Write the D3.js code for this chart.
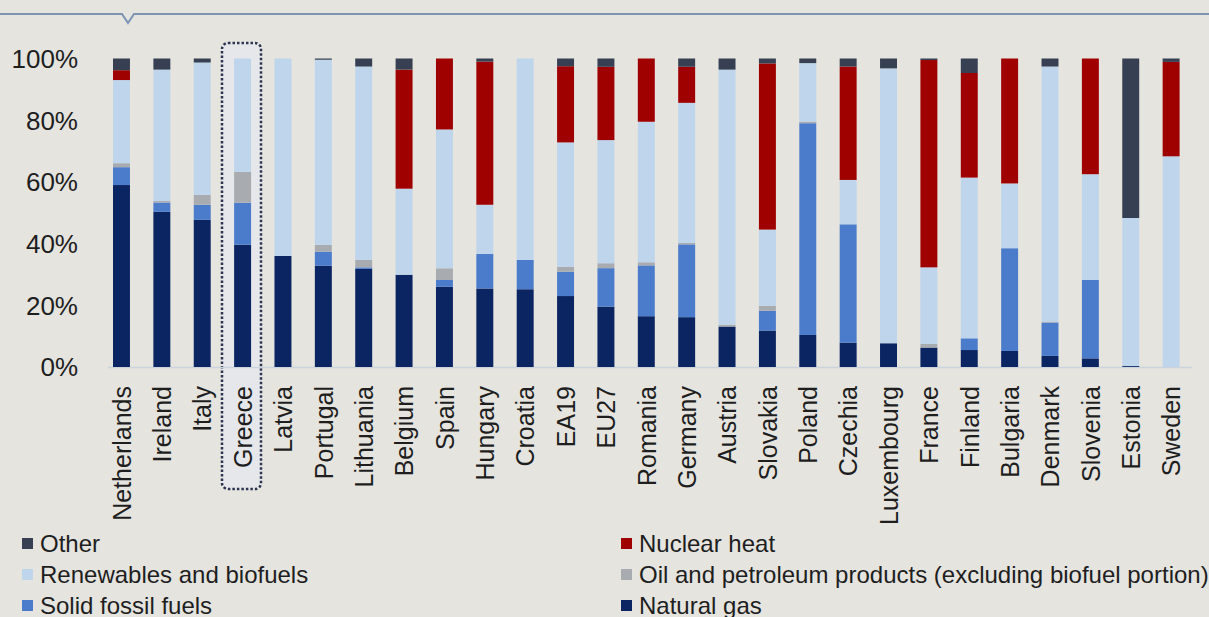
<!DOCTYPE html>
<html>
<head>
<meta charset="utf-8">
<script src="https://cdn.jsdelivr.net/npm/d3@7"></script>
<style>
  body { margin: 0; background: #e5e4df; }
  svg { display: block; font-family: "Liberation Sans", Arial, sans-serif; }
</style>
</head>
<body>
<svg id="chart" width="1209" height="617"></svg>
<script>
// categories, left to right
var countries = ["Netherlands", "Ireland", "Italy", "Greece", "Latvia", "Portugal", "Lithuania",
  "Belgium", "Spain", "Hungary", "Croatia", "EA19", "EU27", "Romania", "Germany", "Austria",
  "Slovakia", "Poland", "Czechia", "Luxembourg", "France", "Finland", "Bulgaria", "Denmark",
  "Slovenia", "Estonia", "Sweden"];

// shares in %
var natural_gas = [59.1, 50.3, 47.7, 39.6, 36, 32.8, 31.8, 29.9, 26, 25.5, 25.2, 23, 19.6, 16.3, 16.3, 13.1, 11.8, 10.4, 7.9, 7.7, 6.3, 5.5, 5.2, 3.6, 2.8, 0.3, 0];
var solid_fossil = [5.8, 3, 4.9, 13.6, 0, 4.6, 0.5, 0, 2.2, 11.2, 9.5, 7.9, 12.5, 16.3, 23.8, 0, 6.4, 68.7, 38.4, 0, 0, 3.8, 33.3, 10.8, 25.4, 0, 0];
var oil = [1.3, 0.5, 3.2, 10, 0, 2.2, 2.4, 0, 3.8, 0, 0, 1.6, 1.6, 1, 0.5, 0.6, 1.6, 0.5, 0, 0, 1.2, 0, 0, 0.3, 0, 0, 0];
var renewables = [27, 42.6, 42.9, 36.7, 64, 60, 62.7, 27.9, 45, 16, 65.3, 40.3, 40, 45.1, 45.8, 82.6, 24.7, 19, 14.4, 89.1, 24.8, 52.1, 21, 82.7, 34.3, 48, 68.3];
var nuclear = [3.2, 0, 0, 0, 0, 0, 0, 38.6, 23, 46.5, 0, 24.7, 23.8, 20.3, 11.8, 0, 53.8, 0, 36.8, 0, 67.2, 33.9, 40.5, 0, 37.5, 0, 30.6];
var other = [3.8, 3.6, 1.3, 0, 0, 0.4, 2.6, 3.6, 0, 1, 0, 2.5, 2.7, 0, 2.7, 3.6, 1.6, 1.5, 2.6, 3.2, 0.5, 4.7, 0, 2.6, 0, 51.7, 1.1];

var yTicks = ["0%", "20%", "40%", "60%", "80%", "100%"];

var keys = ["gas", "solid", "oil", "ren", "nuclear", "other"];
var colors = {gas: "#0b2462", solid: "#4b7ccb", oil: "#a8acb1", ren: "#bed5ec", nuclear: "#9f0000", other: "#364052"};
var legendLeft = [["other", "Other"], ["ren", "Renewables and biofuels"], ["solid", "Solid fossil fuels"]];
var legendRight = [["nuclear", "Nuclear heat"], ["oil", "Oil and petroleum products (excluding biofuel portion)"], ["gas", "Natural gas"]];

var rows = countries.map(function(c, i) {
  return {country: c, gas: natural_gas[i], solid: solid_fossil[i], oil: oil[i],
          ren: renewables[i], nuclear: nuclear[i], other: other[i]};
});

var svg = d3.select("#chart");

// header rule with the little pointer
svg.append("path")
  .attr("d", "M0,14 L122,14 L128,23 L134,14 L1209,14")
  .attr("fill", "none")
  .attr("stroke", "#7b94b2")
  .attr("stroke-width", 2);

var x = d3.scaleBand()
  .domain(countries)
  .range([101.3, 1191.3])
  .paddingInner(0.58)
  .paddingOuter(0.29);

var y = d3.scaleLinear()
  .domain([0, 1])
  .range([367, 58.5]);

// Greece highlight box
svg.append("rect")
  .attr("x", 222).attr("y", 43)
  .attr("width", 39).attr("height", 446)
  .attr("rx", 6)
  .attr("fill", "#e6e7ea")
  .attr("stroke", "#2c3652")
  .attr("stroke-width", 2.5)
  .attr("stroke-dasharray", "2.5 2");

// baseline
svg.append("line")
  .attr("x1", 108).attr("x2", 1192)
  .attr("y1", 367.5).attr("y2", 367.5)
  .attr("stroke", "#cbd3dd")
  .attr("stroke-width", 1.5);

var stacked = d3.stack().keys(keys).offset(d3.stackOffsetExpand)(rows);

svg.append("g").selectAll("g")
  .data(stacked)
  .join("g")
    .attr("fill", function(d) { return colors[d.key]; })
  .selectAll("rect")
  .data(function(d) { return d; })
  .join("rect")
    .attr("x", function(d) { return x(d.data.country); })
    .attr("width", x.bandwidth())
    .attr("y", function(d) { return y(d[1]); })
    .attr("height", function(d) { return y(d[0]) - y(d[1]); });

// y axis labels
svg.append("g").selectAll("text")
  .data(yTicks)
  .join("text")
    .attr("x", 78)
    .attr("y", function(d, i) { return y(i / 5); })
    .attr("dy", "0.36em")
    .attr("text-anchor", "end")
    .attr("fill", "#1e1e1e")
    .style("font-size", "26px")
    .text(function(d) { return d; });

// x labels, rotated
svg.append("g").selectAll("text")
  .data(countries)
  .join("text")
    .attr("transform", function(d) { return "translate(" + (x(d) + x.bandwidth() / 2) + ",386) rotate(-90)"; })
    .attr("dy", "0.37em")
    .attr("text-anchor", "end")
    .attr("fill", "#1e1e1e")
    .style("font-size", "25px")
    .text(function(d) { return d; });

// legend
function legendColumn(items, x0) {
  var g = svg.append("g");
  items.forEach(function(it, i) {
    var cy = 543.5 + i * 31;
    g.append("rect").attr("x", x0).attr("y", cy - 5.5).attr("width", 11).attr("height", 11)
      .attr("fill", colors[it[0]]);
    g.append("text").attr("x", x0 + 18).attr("y", cy).attr("dy", "0.36em")
      .attr("fill", "#1e1e1e")
      .style("font-size", "24px")
      .text(it[1]);
  });
}
legendColumn(legendLeft, 22);
legendColumn(legendRight, 621);
</script>
</body>
</html>
